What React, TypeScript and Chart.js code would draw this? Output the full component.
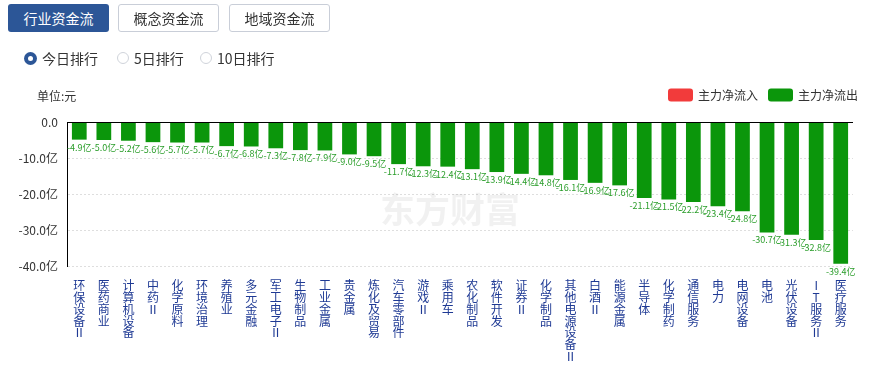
import React, { useEffect, useRef } from 'react';
import { Chart, registerables } from 'chart.js';

Chart.register(...registerables);

const categories = [
  '环保设备Ⅱ', '医药商业', '计算机设备', '中药Ⅱ', '化学原料', '环境治理', '养殖业', '多元金融',
  '军工电子Ⅱ', '生物制品', '工业金属', '贵金属', '炼化及贸易', '汽车零部件', '游戏Ⅱ', '乘用车',
  '农化制品', '软件开发', '证券Ⅱ', '化学制品', '其他电源设备Ⅱ', '白酒Ⅱ', '能源金属', '半导体',
  '化学制药', '通信服务', '电力', '电网设备', '电池', '光伏设备', 'IT服务Ⅱ', '医疗服务',
];

const outflow = [
  -4.9, -5.0, -5.2, -5.6, -5.7, -5.7, -6.7, -6.8,
  -7.3, -7.8, -7.9, -9.0, -9.5, -11.7, -12.3, -12.4,
  -13.1, -13.9, -14.4, -14.8, -16.1, -16.9, -17.6, -21.1,
  -21.5, -22.2, -23.4, -24.8, -30.7, -31.3, -32.8, -39.4,
];

const inflow: number[] = [];

const yTicks = [0, -10, -20, -30, -40];

const seriesNames = ['主力净流入', '主力净流出'];
const seriesColors = ['#f23b3b', '#0b960b'];

const FONT = '"Noto Sans CJK SC", "Noto Sans", sans-serif';

const extrasPlugin = {
  id: 'extras',
  beforeDatasetsDraw(chart: any) {
    const { ctx, chartArea } = chart;
    ctx.save();
    ctx.fillStyle = 'rgba(0,0,0,0.055)';
    ctx.font = `bold 35px ${FONT}`;
    ctx.textBaseline = 'middle';
    ctx.textAlign = 'left';
    const cx = (chartArea.left + chartArea.right) / 2;
    ctx.fillText('东方财富', cx - 80, 210);
    ctx.restore();
  },
  afterDatasetsDraw(chart: any) {
    const { ctx, chartArea, scales } = chart;
    ctx.save();
    // zero line
    const y0 = Math.round(scales.y.getPixelForValue(0)) + 0.5;
    ctx.strokeStyle = '#000';
    ctx.lineWidth = 1;
    ctx.beginPath();
    ctx.moveTo(chartArea.left, y0);
    ctx.lineTo(chartArea.right, y0);
    ctx.stroke();
    // bar labels
    const meta = chart.getDatasetMeta(1);
    ctx.font = `9px ${FONT}`;
    ctx.fillStyle = '#2a9d2a';
    ctx.textAlign = 'center';
    ctx.textBaseline = 'top';
    meta.data.forEach((bar: any, i: number) => {
      const v = chart.data.datasets[1].data[i] as number;
      ctx.fillText(`${v.toFixed(1)}亿`, bar.x, bar.y + 3);
    });
    ctx.restore();
  },
  afterDraw(chart: any) {
    const { ctx } = chart;
    ctx.save();
    ctx.font = `12px ${FONT}`;
    ctx.textBaseline = 'middle';
    ctx.fillStyle = '#333';
    ctx.textAlign = 'left';
    ctx.fillText('单位:元', 37, 96);
    // legend
    let x = 668;
    chart.data.datasets.forEach((ds: any) => {
      ctx.fillStyle = ds.backgroundColor;
      ctx.beginPath();
      (ctx as any).roundRect(x, 88.5, 25, 13, 3);
      ctx.fill();
      ctx.fillStyle = '#333';
      ctx.fillText(ds.label, x + 30, 95);
      x += 100;
    });
    ctx.restore();
  },
};

function Tab({ left, text, active }: { left: number; text: string; active?: boolean }) {
  return (
    <div
      style={{
        position: 'absolute',
        left,
        top: 4,
        width: active ? 101 : 99,
        height: active ? 28 : 26,
        lineHeight: active ? '28px' : '26px',
        textAlign: 'center',
        fontSize: 14,
        borderRadius: 3,
        background: active ? '#2c5697' : '#fff',
        color: active ? '#fff' : '#333',
        border: active ? 'none' : '1px solid #c9ced8',
        fontFamily: FONT,
      }}
    >
      {text}
    </div>
  );
}

function Radio({ left, text, active }: { left: number; text: string; active?: boolean }) {
  return (
    <div style={{ position: 'absolute', left, top: 48, height: 20, display: 'flex', alignItems: 'center', fontFamily: FONT, fontSize: 14, color: '#333' }}>
      <div
        style={{
          width: active ? 13 : 12,
          height: active ? 13 : 12,
          borderRadius: '50%',
          boxSizing: 'border-box',
          background: active ? '#2c5697' : '#fff',
          border: active ? 'none' : '1px solid #cfd3da',
          display: 'flex',
          alignItems: 'center',
          justifyContent: 'center',
          marginRight: 5,
        }}
      >
        {active ? <div style={{ width: 5, height: 5, borderRadius: '50%', background: '#fff' }} /> : null}
      </div>
      <span>{text}</span>
    </div>
  );
}

export default function App() {
  const ref = useRef<HTMLCanvasElement>(null);
  useEffect(() => {
    if (!ref.current) return;
    const chart = new Chart(ref.current, {
      type: 'bar',
      data: {
        labels: categories,
        datasets: [
          { label: seriesNames[0], data: inflow, backgroundColor: seriesColors[0], grouped: false, barPercentage: 0.6, categoryPercentage: 1 } as any,
          { label: seriesNames[1], data: outflow, backgroundColor: seriesColors[1], grouped: false, barPercentage: 0.6, categoryPercentage: 1 } as any,
        ],
      },
      options: {
        responsive: false,
        animation: false,
        devicePixelRatio: 1,
        layout: { padding: { top: 122, left: 0, right: 24, bottom: 0 } },
        plugins: { legend: { display: false }, tooltip: { enabled: false }, title: { display: false } },
        scales: {
          x: {
            grid: { display: false },
            border: { display: false },
            afterFit: (s: any) => { s.height = 99; },
            ticks: {
              autoSkip: false,
              maxRotation: 0,
              minRotation: 0,
              padding: 6,
              color: '#1f3a94',
              font: { family: FONT, size: 12, lineHeight: 0.98 },
              callback: function (this: any, value: any) {
                return Array.from(this.getLabelForValue(value) as string);
              },
            },
          },
          y: {
            min: -40,
            max: 0,
            afterFit: (s: any) => { s.width = 67; },
            afterBuildTicks: (s: any) => { s.ticks = yTicks.map((v) => ({ value: v })); },
            grid: {
              drawTicks: false,
              color: (c: any) => (c.tick && c.tick.value === 0 ? 'rgba(0,0,0,0)' : '#dedede'),
            },
            border: { display: true, color: '#000', width: 1, dash: [2, 2] },
            ticks: {
              padding: 9,
              color: '#333',
              font: { family: FONT, size: 12 },
              callback: (v: any) => (v === 0 ? '0.0' : `${Number(v).toFixed(1)}亿`),
            },
          },
        },
      },
      plugins: [extrasPlugin],
    });
    return () => chart.destroy();
  }, []);

  return (
    <div style={{ position: 'fixed', left: 0, top: 0, width: 877, height: 365, background: '#fff', overflow: 'hidden' }}>
      <canvas ref={ref} width={877} height={365} style={{ position: 'absolute', left: 0, top: 0 }} />
      <Tab left={8} text="行业资金流" active />
      <Tab left={118} text="概念资金流" />
      <Tab left={229} text="地域资金流" />
      <Radio left={24} text="今日排行" active />
      <Radio left={117} text="5日排行" />
      <Radio left={200} text="10日排行" />
    </div>
  );
}
